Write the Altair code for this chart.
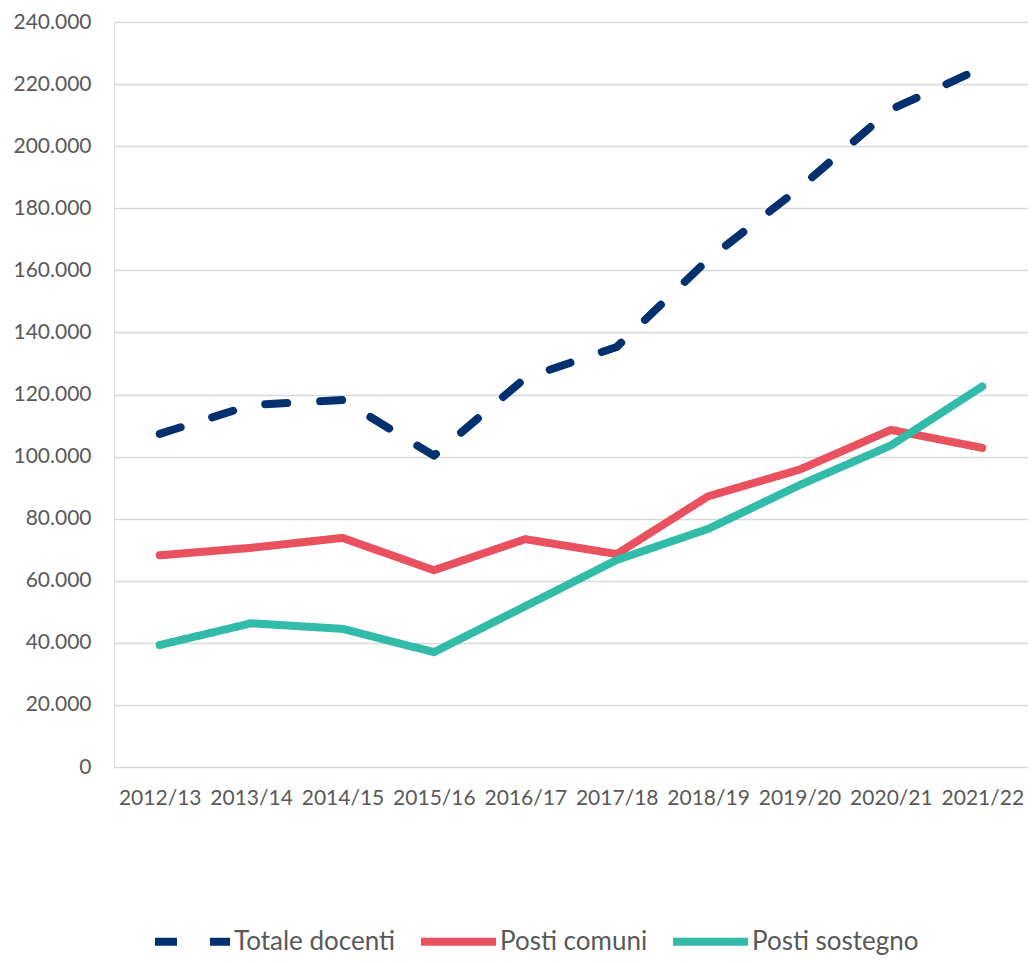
import altair as alt
import pandas as pd

anni = ["2012/13", "2013/14", "2014/15", "2015/16", "2016/17",
        "2017/18", "2018/19", "2019/20", "2020/21", "2021/22"]
totale_docenti = [107300, 116600, 118200, 100300, 125300, 135300, 163500, 186500, 211800, 225300]
posti_comuni = [68200, 70600, 73800, 63400, 73400, 68600, 87200, 95800, 108600, 102800]
posti_sostegno = [39300, 46300, 44500, 37000, 51800, 66700, 76700, 90800, 103600, 122600]

serie = ["Totale docenti", "Posti comuni", "Posti sostegno"]
colori = ["#03306e", "#e9515f", "#33bbaa"]

rows = []
for nome, vals in zip(serie, [totale_docenti, posti_comuni, posti_sostegno]):
    for a, v in zip(anni, vals):
        rows.append({"anno": a, "valore": v, "serie": nome})
df = pd.DataFrame(rows)

FONT = "Lato"

leg = dict(title=None, orient="none", direction="horizontal",
           legendX=37, legendY=878, symbolType="stroke",
           symbolSize=5625, symbolStrokeWidth=8,
           labelFontSize=26, labelColor="#595959", labelFont=FONT, labelLimit=400,
           labelOffset=0, columnPadding=9)

chart = alt.Chart(df).mark_line(strokeWidth=8, strokeCap="round", strokeJoin="round").encode(
    x=alt.X("anno:N", sort=anni, scale=alt.Scale(type="point", padding=0.5),
            axis=alt.Axis(title=None, labelAngle=0, ticks=False, domain=False, grid=False,
                          labelPadding=20, labelFontSize=21, labelColor="#595959", labelFont=FONT)),
    y=alt.Y("valore:Q", scale=alt.Scale(domain=[0, 240000], nice=False),
            axis=alt.Axis(title=None, values=list(range(0, 240001, 20000)), ticks=False, domain=False,
                          gridColor="#d9d9d9", gridWidth=1.5, labelPadding=23,
                          labelFontSize=21, labelColor="#595959", labelFont=FONT,
                          labelExpr="replace(format(datum.value, ','), ',', '.')")),
    color=alt.Color("serie:N", sort=serie,
                    scale=alt.Scale(domain=serie, range=colori),
                    legend=alt.Legend(**leg)),
    strokeDash=alt.StrokeDash("serie:N", sort=serie,
                              scale=alt.Scale(domain=serie, range=[[22, 33], [1, 0], [1, 0]]),
                              legend=alt.Legend(**leg)),
).properties(
    width=914, height=745,
    autosize=alt.AutoSizeParams(type="none"),
    padding={"left": 106, "top": 14, "right": 0, "bottom": 188},
).configure_view(stroke=None).configure(background="white")

chart.save("out.html", embed_options={"renderer": "svg", "actions": False})
